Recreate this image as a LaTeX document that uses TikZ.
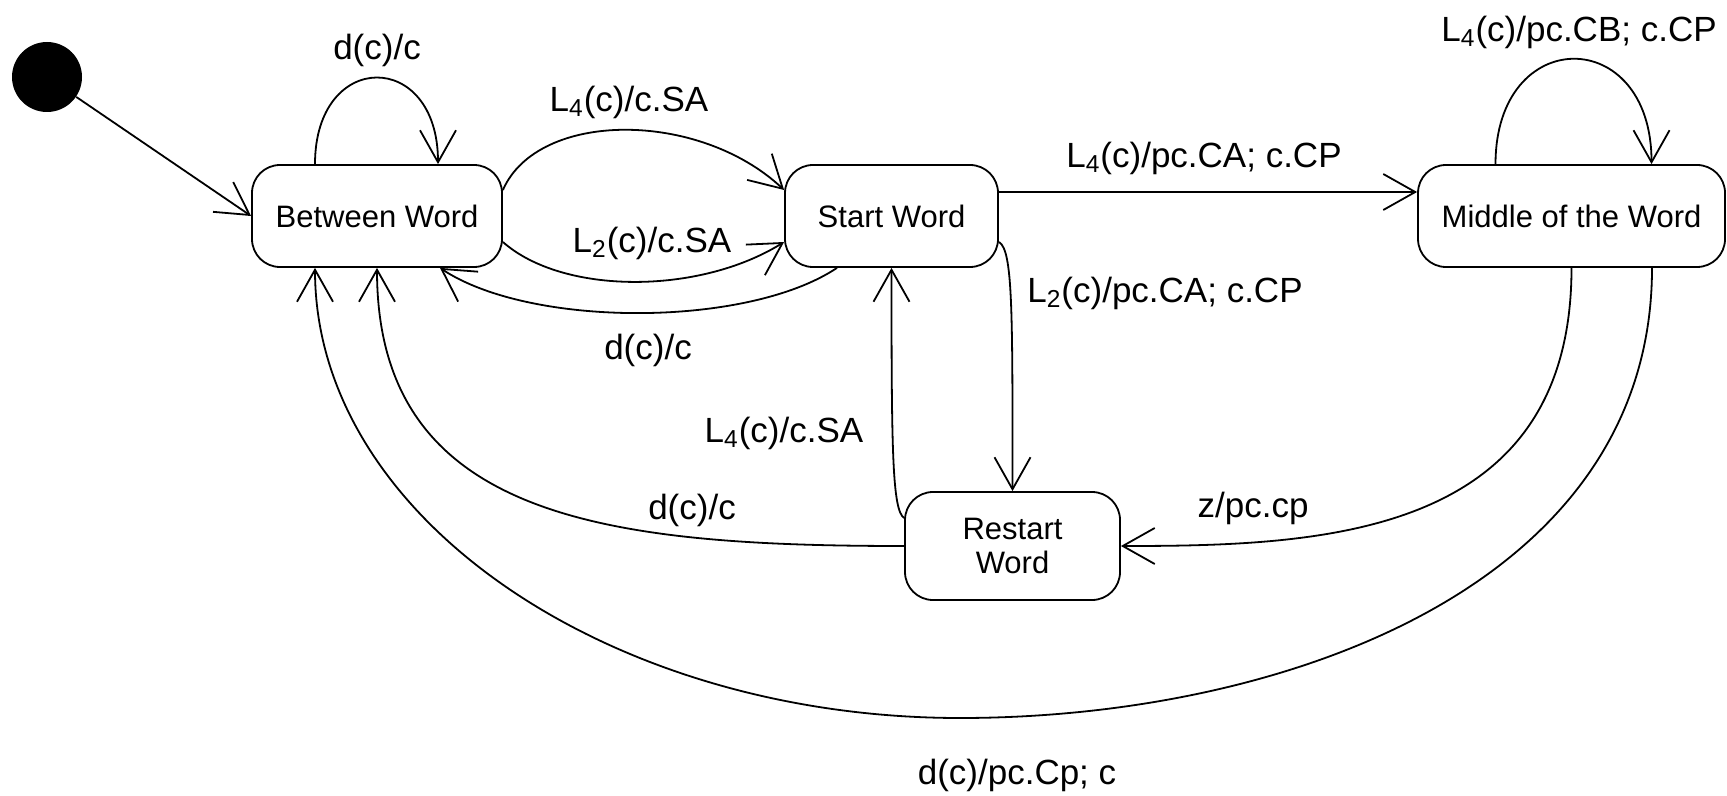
\documentclass[tikz,border=0pt]{standalone}
\usepackage{fontspec}
\setmainfont{Liberation Sans}
\usetikzlibrary{arrows.meta}
\begin{document}
\begin{tikzpicture}[x=0.5pt,y=-0.5pt,
  state/.style={draw, line width=0.9pt, rounded corners=14pt, minimum height=51pt, inner sep=0pt, fill=white,
    font=\fontsize{15.5}{17}\selectfont, align=center},
  tr/.style={draw, line width=0.9pt, -{Straight Barb[length=16pt,width=18pt]}},
  lbl/.style={font=\fontsize{17.5}{20}\selectfont, inner sep=0pt}]
\fill[white] (0,0) rectangle (1727,796);
\useasboundingbox (0,0) rectangle (1727,796);
\node[circle, fill=black, minimum size=35pt, inner sep=0pt] (init) at (47,77) {};
\node[state, minimum width=125pt] (bw) at (377,216) {Between Word};
\node[state, minimum width=106.5pt] (sw) at (891.5,216) {Start Word};
\node[state, minimum width=153.5pt] (mw) at (1571.5,216) {Middle of the Word};
\node[state, minimum width=107.5pt, minimum height=54pt] (rw) at (1012.5,546) {Restart\\Word};

\draw[tr] (init) -- (bw.west);
\draw[tr] ([xshift=-31pt]bw.north) .. controls +(0,-115) and +(0,-115) .. ([xshift=30.5pt]bw.north)
  node[lbl] at (377,50) {d(c)/c};
\draw[tr] ([yshift=13pt]bw.east) .. controls +(35,-80) and +(-85,-80) .. ([yshift=13pt]sw.west)
  node[lbl] at (629,102) {L\textsubscript{4}(c)/c.SA};
\draw[tr] ([yshift=-13pt]bw.east) .. controls +(60,53) and +(-85,53) .. ([yshift=-13pt]sw.west)
  node[lbl] at (652,243) {L\textsubscript{2}(c)/c.SA};
\draw[tr] ([xshift=-27.25pt]sw.south) .. controls +(-90,60) and +(90,60) .. ([xshift=31.5pt]bw.south)
  node[lbl] at (648,350) {d(c)/c};
\draw[tr] ([yshift=12pt]sw.east) -- ([yshift=12pt]mw.west)
  node[lbl] at (1204,158) {L\textsubscript{4}(c)/pc.CA; c.CP};
\draw[tr] ([xshift=-38pt]mw.north) .. controls +(0,-140) and +(0,-140) .. ([xshift=40pt]mw.north)
  node[lbl] at (1579,32) {L\textsubscript{4}(c)/pc.CB; c.CP};
\draw[tr] ([yshift=-13pt]sw.east) .. controls +(14,8) and +(0,-180) .. (rw.north)
  node[lbl] at (1165,293) {L\textsubscript{2}(c)/pc.CA; c.CP};
\draw[tr] ([yshift=14pt]rw.west) .. controls +(-12,-8) and +(0,180) .. (sw.south)
  node[lbl] at (784,433) {L\textsubscript{4}(c)/c.SA};
\draw[tr] (mw.south) .. controls +(0,270) and +(200,0) .. (rw.east)
  node[lbl] at (1253,508) {z/pc.cp};
\draw[tr] (rw.west) .. controls +(-300,0) and +(0,250) .. (bw.south)
  node[lbl] at (692,510) {d(c)/c};
\draw[tr] ([xshift=40.25pt]mw.south) .. controls +(0,320) and +(320,0) .. (960,718)
  .. controls +(-350,0) and +(0,250) .. ([xshift=-31pt]bw.south)
  node[lbl] at (1017,775) {d(c)/pc.Cp; c};
\end{tikzpicture}
\end{document}
